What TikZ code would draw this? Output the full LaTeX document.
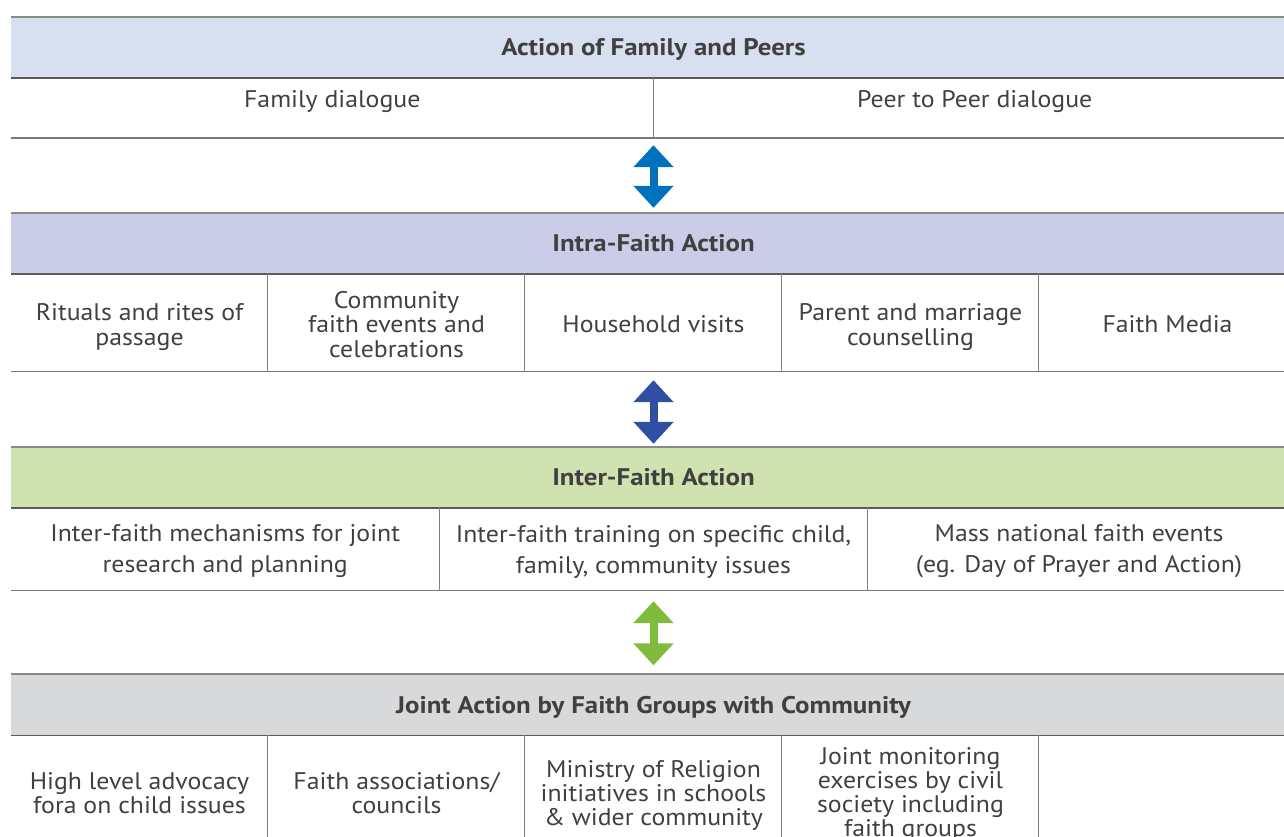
\documentclass[tikz,border=0pt]{standalone}
\usepackage{fontspec}
\setmainfont{PT Sans}
\newfontfamily\rfont[FakeStretch=1.075]{PT Sans}
\newfontfamily\bfont[FakeStretch=1.12]{PT Sans}
\usetikzlibrary{arrows.meta}
\definecolor{txt}{HTML}{404040}
\definecolor{hA}{HTML}{D6E0F1}
\definecolor{hB}{HTML}{CBCCE7}
\definecolor{hC}{HTML}{CFE2B0}
\definecolor{hD}{HTML}{D8D9DB}
\definecolor{aA}{HTML}{0071BC}
\definecolor{aB}{HTML}{2F4FA2}
\definecolor{aC}{HTML}{80BC3C}
\definecolor{ltop}{HTML}{8A8A8A}
\definecolor{lbot}{HTML}{5A5A5A}
\definecolor{lrow}{HTML}{7A7A7A}
\definecolor{ldiv}{HTML}{808080}
\tikzset{
  hdr/.style={fill=#1, minimum width=1285pt, minimum height=61pt, inner sep=0pt,
    text height=16.5pt, text depth=0pt,
    font=\bfont\bfseries\fontsize{24}{25}\selectfont, text=txt},
  rowbox/.style={minimum width=1285pt, inner sep=0pt},
  cell/.style={align=center, inner sep=0pt, text=txt, font=\rfont\fontsize{24}{24.5}\selectfont},
  cellw/.style={align=center, inner sep=0pt, text=txt, font=\rfont\fontsize{24}{31}\selectfont},
  cellc/.style={align=center, inner sep=0pt, text=txt, font=\rfont\fontsize{24}{24}\selectfont},
  htop/.style={draw=ltop, line width=1.8pt},
  hbot/.style={draw=lbot, line width=1.5pt},
  rbot/.style={draw=lrow, line width=1.4pt},
  div/.style={draw=ldiv, line width=0.9pt},
  dbl/.style={draw=#1, line width=8pt,
    {Triangle[width=39pt,length=22pt]}-{Triangle[width=39pt,length=22pt]}}
}
\begin{document}
\begin{tikzpicture}[x=1pt,y=-1pt]
\useasboundingbox (0,0) rectangle (1284,837);
\begin{scope}
\clip (0,0) rectangle (1284,837);
% ---- level 1
\node[hdr=hA] (h1) at (653.5,47.5) {Action of Family and Peers};
\node[rowbox, minimum height=60pt] (r1) at (653.5,108) {};
\node[cell, anchor=base] (c11) at (332.25,108) {Family dialogue};
\node[cell, anchor=base] (c12) at (974.75,108) {Peer to Peer dialogue};
\draw[htop] (h1.north west) -- (h1.north east);
\draw[hbot] (h1.south west) -- (h1.south east);
\draw[rbot] (r1.south west) -- (r1.south east);
\draw[div] (r1.north) -- (r1.south);
% ---- level 2
\node[hdr=hB] (h2) at (653.5,243.5) {Intra-Faith Action};
\node[rowbox, minimum height=98pt] (r2) at (653.5,322) {};
\node[cell] (c21) at (139.5,327) {Rituals and rites of\\passage};
\node[cell] (c22) at (396.5,324.5) {Community\\faith events and\\celebrations};
\node[cell] (c23) at (653.5,324) {Household visits};
\node[cell] (c24) at (910.5,327) {Parent and marriage\\counselling};
\node[cell] (c25) at (1167.5,324) {Faith Media};
\draw[htop] (h2.north west) -- (h2.north east);
\draw[hbot] (h2.south west) -- (h2.south east);
\draw[rbot] (r2.south west) -- (r2.south east);
\foreach \k in {1,2,3,4}
  \draw[div] ([xshift=\k*257pt]r2.north west) -- ([xshift=\k*257pt]r2.south west);
% ---- level 3
\node[hdr=hC] (h3) at (653.5,477.5) {Inter-Faith Action};
\node[rowbox, minimum height=83pt] (r3) at (653.5,548.5) {};
\node[cellw] (c31) at (225.2,551.5) {Inter-faith mechanisms for joint\\research and planning};
\node[cellw] (c32) at (653.5,551.5) {Inter-faith training on specific child,\\family, community issues};
\node[cellw] (c33) at (1079,551.5) {Mass national faith events\\(eg. Day of Prayer and Action)};
\draw[htop] (h3.north west) -- (h3.north east);
\draw[hbot] (h3.south west) -- (h3.south east);
\draw[rbot] (r3.south west) -- (r3.south east);
\foreach \k in {1,2}
  \draw[div] ([xshift=\k*428.33pt]r3.north west) -- ([xshift=\k*428.33pt]r3.south west);
% ---- level 4
\node[hdr=hD] (h4) at (653.5,705) {Joint Action by Faith Groups with Community};
\node[rowbox, minimum height=130pt] (r4) at (653.5,800) {};
\node[cellc] (c41) at (139.5,793.5) {High level advocacy\\fora on child issues};
\node[cellc] (c42) at (396.5,793.5) {Faith associations/\\councils};
\node[cellc] (c43) at (653.5,795) {Ministry of Religion\\initiatives in schools\\\&~wider community};
\node[cellc] (c44) at (910.5,794.5) {Joint monitoring\\exercises by civil\\society including\\faith groups};
\draw[htop] (h4.north west) -- (h4.north east);
\draw[hbot] (h4.south west) -- (h4.south east);
\foreach \k in {1,2,3,4}
  \draw[div] ([xshift=\k*257pt]r4.north west) -- ([xshift=\k*257pt]r4.south west);
% ---- arrows
\draw[dbl=aA] ([yshift=-7pt]r1.south) -- ([yshift=5pt]h2.north);
\draw[dbl=aB] ([yshift=-9pt]r2.south) -- ([yshift=3pt]h3.north);
\draw[dbl=aC] ([yshift=-11pt]r3.south) -- ([yshift=9pt]h4.north);
\end{scope}
\end{tikzpicture}
\end{document}
